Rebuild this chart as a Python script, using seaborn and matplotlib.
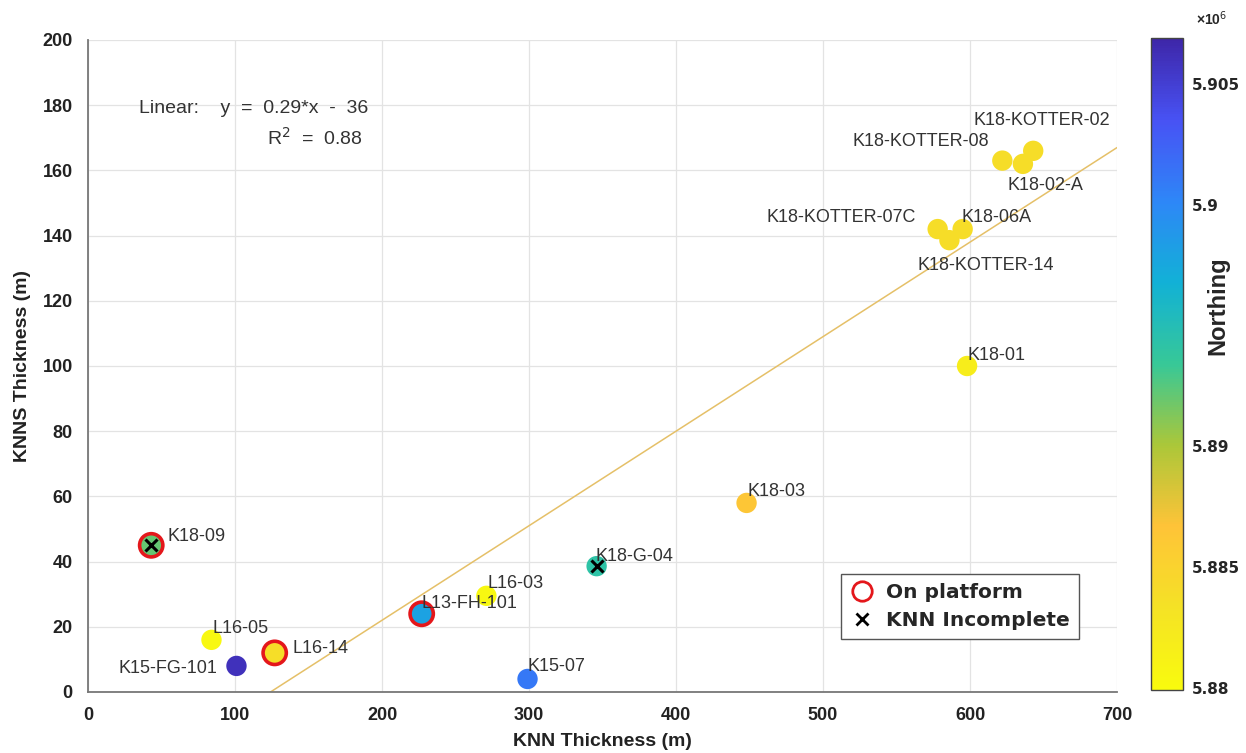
import numpy as np
import pandas as pd
import matplotlib
matplotlib.use("Agg")
import matplotlib.pyplot as plt
from matplotlib.colors import LinearSegmentedColormap, Normalize
from matplotlib.lines import Line2D
import matplotlib.ticker as mticker
import seaborn as sns

# ---------------- data ----------------
wells = ["K18-09", "L16-05", "K15-FG-101", "L16-14", "L13-FH-101", "L16-03",
         "K15-07", "K18-G-04", "K18-03", "K18-01", "K18-KOTTER-07C",
         "K18-KOTTER-14", "K18-06A", "K18-KOTTER-08", "K18-02-A", "K18-KOTTER-02"]
knn_thickness = [43, 84, 101, 127, 227, 271, 299, 346, 448, 598, 578, 586, 595, 622, 636, 643]
knns_thickness = [45, 16, 8, 12, 24, 29.5, 4, 38.6, 58, 100, 142, 138.6, 142, 163, 162, 166]
northing = [5892100, 5880400, 5906000, 5883700, 5898000, 5880400, 5901000, 5894200,
            5886400, 5881800, 5883900, 5883900, 5883900, 5883900, 5883900, 5883900]
on_platform = [True, False, False, True, True, False, False, False,
               False, False, False, False, False, False, False, False]
knn_incomplete = [True, False, False, False, False, False, False, True,
                  False, False, False, False, False, False, False, False]
fit_slope = 0.29
fit_intercept = -36
fit_r2 = 0.88
x_ticks = [0, 100, 200, 300, 400, 500, 600, 700]
y_ticks = [0, 20, 40, 60, 80, 100, 120, 140, 160, 180, 200]
cbar_ticks = [5880000, 5885000, 5890000, 5895000, 5900000, 5905000]
cbar_ticklabels = ["5.88", "5.885", "5.89", "", "5.9", "5.905"]

df = pd.DataFrame({"well": wells, "knn": knn_thickness, "knns": knns_thickness,
                   "northing": northing, "platform": on_platform,
                   "incomplete": knn_incomplete})

# label offsets (pixels) and alignment
label_offsets = {
    "K18-09": (16, 9, "left"), "L16-05": (1, 11, "left"),
    "K15-FG-101": (-19, -3, "right"), "L16-14": (18, 4, "left"),
    "L13-FH-101": (0, 10, "left"), "L16-03": (1, 12, "left"),
    "K15-07": (0, 12, "left"), "K18-G-04": (-1, 10, "left"),
    "K18-03": (1, 11, "left"), "K18-01": (0, 11, "left"),
    "K18-KOTTER-07C": (-22, 12, "right"), "K18-KOTTER-14": (-32, -25, "left"),
    "K18-06A": (-1, 12, "left"), "K18-KOTTER-08": (-13, 19, "right"),
    "K18-02-A": (-15, -22, "left"), "K18-KOTTER-02": (-60, 30, "left"),
}

# parula-like colormap (reversed: yellow = low)
parula_pts = [
    (0.000, (0.2422, 0.1504, 0.6603)),
    (0.125, (0.2810, 0.3228, 0.9579)),
    (0.250, (0.1786, 0.5289, 0.9682)),
    (0.375, (0.0689, 0.6948, 0.8394)),
    (0.500, (0.2161, 0.7843, 0.5923)),
    (0.625, (0.6720, 0.7793, 0.2227)),
    (0.750, (0.9970, 0.7659, 0.2199)),
    (0.875, (0.9598, 0.8870, 0.1465)),
    (1.000, (0.9763, 0.9831, 0.0538)),
]
parula = LinearSegmentedColormap.from_list("parula", parula_pts)
cmap = parula.reversed()
vmin, vmax = 5879900, 5906900
norm = Normalize(vmin=vmin, vmax=vmax)

# ---------------- plot ----------------
sns.set_style("whitegrid")
plt.rcParams["font.family"] = ["Liberation Sans", "DejaVu Sans"]

fig = plt.figure(figsize=(12.46, 7.53), dpi=100)
ax = fig.add_axes([88 / 1246, 61 / 753, 1029 / 1246, 652 / 753])
cax = fig.add_axes([1151 / 1246, 63 / 753, 32 / 1246, 652 / 753])

# fit line
xs = np.array([0, 700])
ax.plot(xs, fit_slope * xs + fit_intercept, color="#e5c068", lw=1.1, zorder=2)

base = df[~df["platform"]]
plat = df[df["platform"]]
sns.scatterplot(data=base, x="knn", y="knns", hue="northing", palette=cmap,
                hue_norm=norm, s=215, linewidth=0, legend=False, ax=ax, zorder=3)
sns.scatterplot(data=plat, x="knn", y="knns", hue="northing", palette=cmap,
                hue_norm=norm, s=280, edgecolor="#e4171b", linewidth=2.6,
                legend=False, ax=ax, zorder=4)
inc = df[df["incomplete"]]
ax.scatter(inc["knn"], inc["knns"], marker="x", color="black", s=75,
           linewidths=2.2, zorder=5)

for w, x, y in zip(df["well"], df["knn"], df["knns"]):
    dx, dy, ha = label_offsets[w]
    ax.annotate(w, (x, y), xytext=(dx * 0.72, dy * 0.72), textcoords="offset points",
                ha=ha, va="center", fontsize=13, color="#333333", zorder=6)

ax.text(0.05, 0.895, "Linear:    y  =  0.29*x  -  36", transform=ax.transAxes,
        fontsize=14, color="#333333", va="center")
ax.text(0.174, 0.85, "R$^2$  =  0.88", transform=ax.transAxes,
        fontsize=14, color="#333333", va="center")

ax.set_xlim(0, 700)
ax.set_ylim(0, 200)
ax.set_xticks(x_ticks)
ax.set_yticks(y_ticks)
ax.grid(True, color="#e3e3e3", lw=0.9)
for s in ["top", "right"]:
    ax.spines[s].set_visible(False)
for s in ["left", "bottom"]:
    ax.spines[s].set_color("#777777")
    ax.spines[s].set_linewidth(1.3)
ax.tick_params(axis="both", direction="in", length=6, width=1, color="#777777",
               labelsize=13, labelcolor="#222222")
ax.tick_params(axis="x", pad=11)
ax.tick_params(axis="y", pad=11)
for t in ax.get_xticklabels() + ax.get_yticklabels():
    t.set_fontweight("bold")
ax.set_xlabel("KNN Thickness (m)", fontsize=14, fontweight="bold", color="#222222",
              labelpad=6)
ax.set_ylabel("KNNS Thickness (m)", fontsize=14, fontweight="bold", color="#222222",
              labelpad=8)

handles = [Line2D([], [], marker="o", ls="", mfc="none", mec="#e4171b", mew=2, ms=14),
           Line2D([], [], marker="x", ls="", color="black", mew=2, ms=9)]
leg = ax.legend(handles, ["On platform", "KNN Incomplete"], loc="lower left",
                bbox_to_anchor=(0.722, 0.066), fancybox=False, framealpha=1,
                edgecolor="#555555",
                prop={"weight": "bold", "size": 14.5, "family": "DejaVu Sans"},
                handletextpad=0.6, borderpad=0.45, labelspacing=0.45,
                handlelength=1.2)
leg.get_frame().set_linewidth(1.0)

# colorbar
sm = plt.cm.ScalarMappable(cmap=cmap, norm=norm)
cb = fig.colorbar(sm, cax=cax)
cb.set_ticks(cbar_ticks)
cb.set_ticklabels(cbar_ticklabels)
cb.ax.tick_params(direction="in", length=4, labelsize=11, color="#444444", pad=6)
for t in cb.ax.get_yticklabels():
    t.set_fontweight("bold")
    t.set_family("DejaVu Sans")
cb.outline.set_edgecolor("#444444")
cb.outline.set_linewidth(1)
cb.set_label("Northing", fontsize=17, fontweight="bold")
cb.ax.yaxis.set_label_coords(2.1, 0.59)
cb.ax.yaxis.label.set_va("center")
cb.ax.text(1.4, 1.015, "×10$^6$", transform=cb.ax.transAxes, fontsize=10,
           fontweight="bold", va="bottom", ha="left")

fig.savefig("out.png", dpi=100)
